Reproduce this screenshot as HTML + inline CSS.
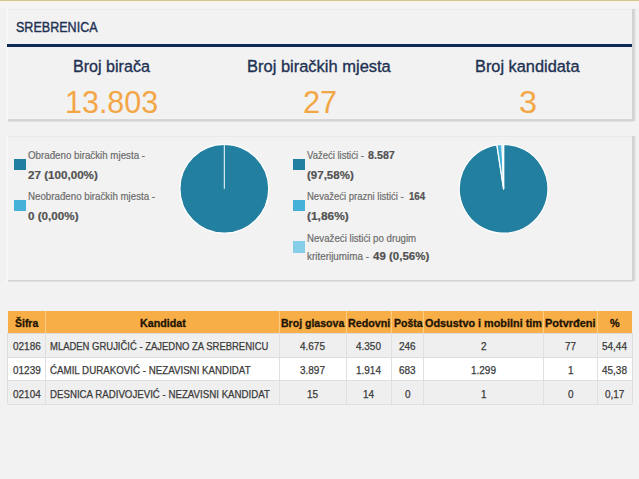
<!DOCTYPE html>
<html><head><meta charset="utf-8">
<style>
*{margin:0;padding:0;box-sizing:border-box}
html,body{width:639px;height:479px;overflow:hidden;background:#f2f2f2;font-family:"Liberation Sans",sans-serif;position:relative}
.t{position:absolute;white-space:nowrap;line-height:1;transform-origin:0 0}
.cell{position:absolute}
.svg{position:absolute;left:0;top:0}
.bx{position:absolute}
</style></head><body>
<div class="bx" style="left:0;top:0;width:639px;height:1px;background:#d3c594"></div>
<div class="bx" style="left:0;top:1px;width:639px;height:1px;background:#faf3de"></div>
<div class="bx" style="left:0;top:2px;width:639px;height:6px;background:#f5f3f4"></div>
<div class="bx" style="left:6px;top:8px;width:1.5px;height:113px;background:#f7f7f7"></div>
<div class="bx" style="left:7.5px;top:8.5px;width:624.5px;height:1px;background:#ededed"></div>
<div class="bx" style="left:632px;top:8.5px;width:3.6px;height:112.5px;background:linear-gradient(to right,#d6d6d6,#d0d0d0 40%,#e2e2e2 75%,#eeeeee)"></div>
<div class="bx" style="left:7.5px;top:118.8px;width:625px;height:2.8px;background:linear-gradient(to bottom,#d9d9d9,#d2d2d2 45%,#e6e6e6)"></div>
<div class="bx" style="left:7px;top:44.4px;width:625px;height:3px;background:#0f2a55"></div>
<div class="bx" style="left:6px;top:135.5px;width:1.5px;height:146px;background:#f7f7f7"></div>
<div class="bx" style="left:7.5px;top:136.2px;width:624.5px;height:1.2px;background:#eaeaea"></div>
<div class="bx" style="left:632px;top:135.5px;width:3.6px;height:145.5px;background:linear-gradient(to right,#d6d6d6,#d0d0d0 40%,#e2e2e2 75%,#eeeeee)"></div>
<div class="bx" style="left:7.5px;top:279.5px;width:625px;height:2.3px;background:linear-gradient(to bottom,#d9d9d9,#d2d2d2 45%,#e6e6e6)"></div>
<div class="bx" style="left:14.3px;top:158.8px;width:11.5px;height:11.2px;background:#227fa0"></div>
<div class="bx" style="left:14.3px;top:200px;width:11.5px;height:11.4px;background:#43b1d8"></div>
<div class="bx" style="left:293px;top:158.8px;width:11.5px;height:11.2px;background:#227fa0"></div>
<div class="bx" style="left:293px;top:200px;width:11.5px;height:11.4px;background:#43b1d8"></div>
<div class="bx" style="left:293px;top:241.3px;width:11.5px;height:11.3px;background:#86cde7"></div>
<svg class="svg" width="639" height="479">
<circle cx="224.3" cy="188.8" r="44.4" fill="#227fa0" stroke="#fff" stroke-width="1.2"/>
<line x1="224.3" y1="144.4" x2="224.3" y2="188.8" stroke="#fff" stroke-width="1"/>
<path d="M503.6,188.8 L503.60,144.40 A44.4,44.4 0 1 1 496.87,144.91 Z" fill="#227fa0" stroke="#fff" stroke-width="1.2" stroke-linejoin="round"/>
<path d="M503.6,188.8 L496.87,144.91 A44.4,44.4 0 0 1 502.04,144.43 Z" fill="#43b1d8" stroke="#fff" stroke-width="1.2" stroke-linejoin="round"/>
<path d="M503.6,188.8 L502.04,144.43 A44.4,44.4 0 0 1 503.60,144.40 Z" fill="#86cde7" stroke="#fff" stroke-width="1.2" stroke-linejoin="round"/>
</svg>
<div class="cell" style="left:7.5px;top:311.2px;width:624.5px;height:21.80000000000001px;background:#f8ae47"></div><div class="cell" style="left:44.75px;top:311.2px;width:1.5px;height:21.80000000000001px;background:#fccb86"></div><div class="cell" style="left:278.75px;top:311.2px;width:1.5px;height:21.80000000000001px;background:#fccb86"></div><div class="cell" style="left:345.75px;top:311.2px;width:1.5px;height:21.80000000000001px;background:#fccb86"></div><div class="cell" style="left:390.75px;top:311.2px;width:1.5px;height:21.80000000000001px;background:#fccb86"></div><div class="cell" style="left:422.75px;top:311.2px;width:1.5px;height:21.80000000000001px;background:#fccb86"></div><div class="cell" style="left:542.75px;top:311.2px;width:1.5px;height:21.80000000000001px;background:#fccb86"></div><div class="cell" style="left:596.75px;top:311.2px;width:1.5px;height:21.80000000000001px;background:#fccb86"></div><div class="cell" style="left:7.5px;top:333px;width:624.5px;height:24px;background:#efefef"></div><div class="cell" style="left:44.75px;top:333px;width:1.5px;height:24px;background:#e0e0e0"></div><div class="cell" style="left:278.75px;top:333px;width:1.5px;height:24px;background:#e0e0e0"></div><div class="cell" style="left:345.75px;top:333px;width:1.5px;height:24px;background:#e0e0e0"></div><div class="cell" style="left:390.75px;top:333px;width:1.5px;height:24px;background:#e0e0e0"></div><div class="cell" style="left:422.75px;top:333px;width:1.5px;height:24px;background:#e0e0e0"></div><div class="cell" style="left:542.75px;top:333px;width:1.5px;height:24px;background:#e0e0e0"></div><div class="cell" style="left:596.75px;top:333px;width:1.5px;height:24px;background:#e0e0e0"></div><div class="cell" style="left:7.5px;top:357px;width:624.5px;height:23.600000000000023px;background:#ffffff"></div><div class="cell" style="left:44.75px;top:357px;width:1.5px;height:23.600000000000023px;background:#e0e0e0"></div><div class="cell" style="left:278.75px;top:357px;width:1.5px;height:23.600000000000023px;background:#e0e0e0"></div><div class="cell" style="left:345.75px;top:357px;width:1.5px;height:23.600000000000023px;background:#e0e0e0"></div><div class="cell" style="left:390.75px;top:357px;width:1.5px;height:23.600000000000023px;background:#e0e0e0"></div><div class="cell" style="left:422.75px;top:357px;width:1.5px;height:23.600000000000023px;background:#e0e0e0"></div><div class="cell" style="left:542.75px;top:357px;width:1.5px;height:23.600000000000023px;background:#e0e0e0"></div><div class="cell" style="left:596.75px;top:357px;width:1.5px;height:23.600000000000023px;background:#e0e0e0"></div><div class="cell" style="left:7.5px;top:380.6px;width:624.5px;height:23.599999999999966px;background:#efefef"></div><div class="cell" style="left:44.75px;top:380.6px;width:1.5px;height:23.599999999999966px;background:#e0e0e0"></div><div class="cell" style="left:278.75px;top:380.6px;width:1.5px;height:23.599999999999966px;background:#e0e0e0"></div><div class="cell" style="left:345.75px;top:380.6px;width:1.5px;height:23.599999999999966px;background:#e0e0e0"></div><div class="cell" style="left:390.75px;top:380.6px;width:1.5px;height:23.599999999999966px;background:#e0e0e0"></div><div class="cell" style="left:422.75px;top:380.6px;width:1.5px;height:23.599999999999966px;background:#e0e0e0"></div><div class="cell" style="left:542.75px;top:380.6px;width:1.5px;height:23.599999999999966px;background:#e0e0e0"></div><div class="cell" style="left:596.75px;top:380.6px;width:1.5px;height:23.599999999999966px;background:#e0e0e0"></div><div class="cell" style="left:7.5px;top:332.5px;width:624.5px;height:1px;background:#dedede"></div><div class="cell" style="left:7.5px;top:356.5px;width:624.5px;height:1px;background:#dedede"></div><div class="cell" style="left:7.5px;top:380.1px;width:624.5px;height:1px;background:#dedede"></div><div class="cell" style="left:7.5px;top:403.7px;width:624.5px;height:1px;background:#dedede"></div><div class="cell" style="left:7.0px;top:333px;width:1px;height:71.19999999999999px;background:#dedede"></div><div class="cell" style="left:631.5px;top:333px;width:1px;height:71.19999999999999px;background:#dedede"></div>
<span class="t" style="left:15.90px;top:20.07px;font-size:14.8px;font-weight:normal;color:#213152;transform:scaleX(0.8481);-webkit-text-stroke:0.4px #213152">SREBRENICA</span><span class="t" style="left:72.66px;top:58.02px;font-size:17.1px;font-weight:normal;color:#213152;transform:scaleX(0.9409);-webkit-text-stroke:0.35px #213152">Broj birača</span><span class="t" style="left:247.34px;top:58.02px;font-size:17.1px;font-weight:normal;color:#213152;transform:scaleX(0.9641);-webkit-text-stroke:0.35px #213152">Broj biračkih mjesta</span><span class="t" style="left:475.34px;top:58.02px;font-size:17.1px;font-weight:normal;color:#213152;transform:scaleX(0.9561);-webkit-text-stroke:0.35px #213152">Broj kandidata</span><span class="t" style="left:65.03px;top:86.66px;font-size:31px;font-weight:normal;color:#f3a645;transform:scaleX(0.9828);-webkit-text-stroke:0px #f3a645">13.803</span><span class="t" style="left:303.01px;top:86.66px;font-size:31px;font-weight:normal;color:#f3a645;transform:scaleX(0.9925);-webkit-text-stroke:0px #f3a645">27</span><span class="t" style="left:518.95px;top:86.66px;font-size:31px;font-weight:normal;color:#f3a645;transform:scaleX(1.0467);-webkit-text-stroke:0px #f3a645">3</span><span class="t" style="left:28.00px;top:150.19px;font-size:11px;font-weight:normal;color:#6c6c6c;transform:scaleX(0.8860);-webkit-text-stroke:0.2px #6c6c6c">Obrađeno biračkih mjesta -</span><span class="t" style="left:28.00px;top:169.99px;font-size:11px;font-weight:bold;color:#525252;transform:scaleX(1.0575);-webkit-text-stroke:0.2px #525252">27 (100,00%)</span><span class="t" style="left:28.00px;top:191.29px;font-size:11px;font-weight:normal;color:#6c6c6c;transform:scaleX(0.8846);-webkit-text-stroke:0.2px #6c6c6c">Neobrađeno biračkih mjesta -</span><span class="t" style="left:28.00px;top:210.69px;font-size:11px;font-weight:bold;color:#525252;transform:scaleX(1.0598);-webkit-text-stroke:0.2px #525252">0 (0,00%)</span><span class="t" style="left:306.80px;top:150.19px;font-size:11px;font-weight:normal;color:#6c6c6c;transform:scaleX(0.8648);-webkit-text-stroke:0.2px #6c6c6c">Važeći listići -</span><span class="t" style="left:368.20px;top:150.19px;font-size:11px;font-weight:bold;color:#525252;transform:scaleX(0.9741);-webkit-text-stroke:0.2px #525252">8.587</span><span class="t" style="left:306.80px;top:169.99px;font-size:11px;font-weight:bold;color:#525252;transform:scaleX(1.0473);-webkit-text-stroke:0.2px #525252">(97,58%)</span><span class="t" style="left:306.80px;top:191.29px;font-size:11px;font-weight:normal;color:#6c6c6c;transform:scaleX(0.8645);-webkit-text-stroke:0.2px #6c6c6c">Nevažeći prazni listići -</span><span class="t" style="left:408.50px;top:191.29px;font-size:11px;font-weight:bold;color:#525252;transform:scaleX(0.8786);-webkit-text-stroke:0.2px #525252">164</span><span class="t" style="left:306.80px;top:210.69px;font-size:11px;font-weight:bold;color:#525252;transform:scaleX(1.0836);-webkit-text-stroke:0.2px #525252">(1,86%)</span><span class="t" style="left:306.80px;top:232.69px;font-size:11px;font-weight:normal;color:#6c6c6c;transform:scaleX(0.8795);-webkit-text-stroke:0.2px #6c6c6c">Nevažeći listići po drugim</span><span class="t" style="left:306.80px;top:251.49px;font-size:11px;font-weight:normal;color:#6c6c6c;transform:scaleX(0.8978);-webkit-text-stroke:0.2px #6c6c6c">kriterijumima -</span><span class="t" style="left:373.20px;top:251.49px;font-size:11px;font-weight:bold;color:#525252;transform:scaleX(1.0454);-webkit-text-stroke:0.2px #525252">49 (0,56%)</span><span class="t" style="left:14.60px;top:318.31px;font-size:10.5px;font-weight:bold;color:#1f1404;transform:scaleX(0.9956);-webkit-text-stroke:0.3px #1f1404">Šifra</span><span class="t" style="left:139.50px;top:318.31px;font-size:10.5px;font-weight:bold;color:#1f1404;transform:scaleX(1.0172);-webkit-text-stroke:0.3px #1f1404">Kandidat</span><span class="t" style="left:281.30px;top:318.31px;font-size:10.5px;font-weight:bold;color:#1f1404;transform:scaleX(1.0035);-webkit-text-stroke:0.3px #1f1404">Broj glasova</span><span class="t" style="left:348.40px;top:318.31px;font-size:10.5px;font-weight:bold;color:#1f1404;transform:scaleX(1.0216);-webkit-text-stroke:0.3px #1f1404">Redovni</span><span class="t" style="left:393.50px;top:318.31px;font-size:10.5px;font-weight:bold;color:#1f1404;transform:scaleX(1.0051);-webkit-text-stroke:0.3px #1f1404">Pošta</span><span class="t" style="left:425.10px;top:318.31px;font-size:10.5px;font-weight:bold;color:#1f1404;transform:scaleX(1.0334);-webkit-text-stroke:0.3px #1f1404">Odsustvo i mobilni tim</span><span class="t" style="left:545.10px;top:318.31px;font-size:10.5px;font-weight:bold;color:#1f1404;transform:scaleX(1.0452);-webkit-text-stroke:0.3px #1f1404">Potvrđeni</span><span class="t" style="left:609.50px;top:318.31px;font-size:10.5px;font-weight:bold;color:#1f1404;transform:scaleX(1.0300);-webkit-text-stroke:0.3px #1f1404">%</span><span class="t" style="left:12.55px;top:341.41px;font-size:10.5px;font-weight:normal;color:#3a3a3a;transform:scaleX(0.9500);-webkit-text-stroke:0.25px #3a3a3a">02186</span><span class="t" style="left:49.80px;top:341.41px;font-size:10.5px;font-weight:normal;color:#3a3a3a;transform:scaleX(0.9017);-webkit-text-stroke:0.25px #3a3a3a">MLADEN GRUJIČIĆ - ZAJEDNO ZA SREBRENICU</span><span class="t" style="left:300.44px;top:341.41px;font-size:10.5px;font-weight:normal;color:#3a3a3a;transform:scaleX(0.9500);-webkit-text-stroke:0.25px #3a3a3a">4.675</span><span class="t" style="left:356.44px;top:341.41px;font-size:10.5px;font-weight:normal;color:#3a3a3a;transform:scaleX(0.9500);-webkit-text-stroke:0.25px #3a3a3a">4.350</span><span class="t" style="left:399.10px;top:341.41px;font-size:10.5px;font-weight:normal;color:#3a3a3a;transform:scaleX(0.9500);-webkit-text-stroke:0.25px #3a3a3a">246</span><span class="t" style="left:480.65px;top:341.41px;font-size:10.5px;font-weight:normal;color:#3a3a3a;transform:scaleX(0.9500);-webkit-text-stroke:0.25px #3a3a3a">2</span><span class="t" style="left:564.88px;top:341.41px;font-size:10.5px;font-weight:normal;color:#3a3a3a;transform:scaleX(0.9500);-webkit-text-stroke:0.25px #3a3a3a">77</span><span class="t" style="left:602.19px;top:341.41px;font-size:10.5px;font-weight:normal;color:#3a3a3a;transform:scaleX(0.9500);-webkit-text-stroke:0.25px #3a3a3a">54,44</span><span class="t" style="left:12.55px;top:365.01px;font-size:10.5px;font-weight:normal;color:#3a3a3a;transform:scaleX(0.9500);-webkit-text-stroke:0.25px #3a3a3a">01239</span><span class="t" style="left:49.80px;top:365.01px;font-size:10.5px;font-weight:normal;color:#3a3a3a;transform:scaleX(0.9276);-webkit-text-stroke:0.25px #3a3a3a">ĆAMIL DURAKOVIĆ - NEZAVISNI KANDIDAT</span><span class="t" style="left:300.44px;top:365.01px;font-size:10.5px;font-weight:normal;color:#3a3a3a;transform:scaleX(0.9500);-webkit-text-stroke:0.25px #3a3a3a">3.897</span><span class="t" style="left:356.44px;top:365.01px;font-size:10.5px;font-weight:normal;color:#3a3a3a;transform:scaleX(0.9500);-webkit-text-stroke:0.25px #3a3a3a">1.914</span><span class="t" style="left:399.10px;top:365.01px;font-size:10.5px;font-weight:normal;color:#3a3a3a;transform:scaleX(0.9500);-webkit-text-stroke:0.25px #3a3a3a">683</span><span class="t" style="left:470.94px;top:365.01px;font-size:10.5px;font-weight:normal;color:#3a3a3a;transform:scaleX(0.9500);-webkit-text-stroke:0.25px #3a3a3a">1.299</span><span class="t" style="left:567.65px;top:365.01px;font-size:10.5px;font-weight:normal;color:#3a3a3a;transform:scaleX(0.9500);-webkit-text-stroke:0.25px #3a3a3a">1</span><span class="t" style="left:602.19px;top:365.01px;font-size:10.5px;font-weight:normal;color:#3a3a3a;transform:scaleX(0.9500);-webkit-text-stroke:0.25px #3a3a3a">45,38</span><span class="t" style="left:12.55px;top:388.71px;font-size:10.5px;font-weight:normal;color:#3a3a3a;transform:scaleX(0.9500);-webkit-text-stroke:0.25px #3a3a3a">02104</span><span class="t" style="left:49.80px;top:388.71px;font-size:10.5px;font-weight:normal;color:#3a3a3a;transform:scaleX(0.9231);-webkit-text-stroke:0.25px #3a3a3a">DESNICA RADIVOJEVIĆ - NEZAVISNI KANDIDAT</span><span class="t" style="left:307.38px;top:388.71px;font-size:10.5px;font-weight:normal;color:#3a3a3a;transform:scaleX(0.9500);-webkit-text-stroke:0.25px #3a3a3a">15</span><span class="t" style="left:363.38px;top:388.71px;font-size:10.5px;font-weight:normal;color:#3a3a3a;transform:scaleX(0.9500);-webkit-text-stroke:0.25px #3a3a3a">14</span><span class="t" style="left:404.65px;top:388.71px;font-size:10.5px;font-weight:normal;color:#3a3a3a;transform:scaleX(0.9500);-webkit-text-stroke:0.25px #3a3a3a">0</span><span class="t" style="left:480.65px;top:388.71px;font-size:10.5px;font-weight:normal;color:#3a3a3a;transform:scaleX(0.9500);-webkit-text-stroke:0.25px #3a3a3a">1</span><span class="t" style="left:567.65px;top:388.71px;font-size:10.5px;font-weight:normal;color:#3a3a3a;transform:scaleX(0.9500);-webkit-text-stroke:0.25px #3a3a3a">0</span><span class="t" style="left:604.97px;top:388.71px;font-size:10.5px;font-weight:normal;color:#3a3a3a;transform:scaleX(0.9500);-webkit-text-stroke:0.25px #3a3a3a">0,17</span>
</body></html>
